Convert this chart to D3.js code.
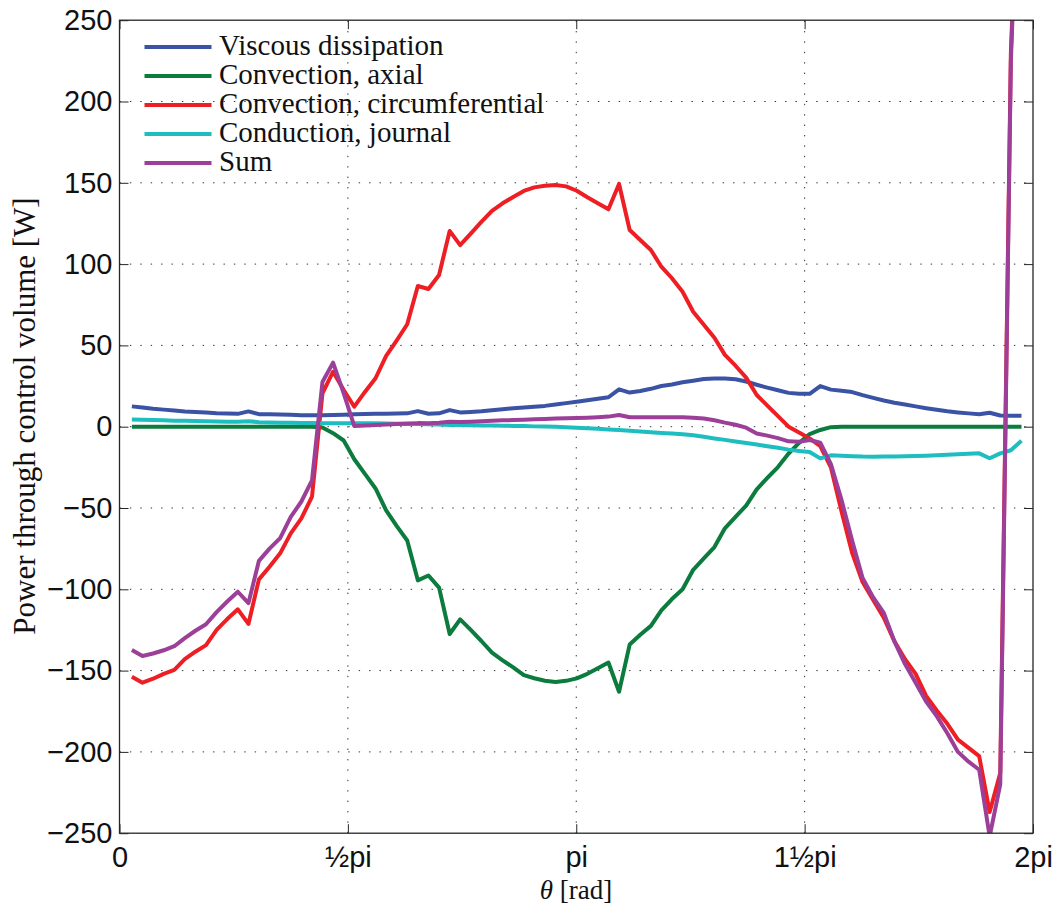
<!DOCTYPE html>
<html><head><meta charset="utf-8">
<script src="https://cdn.jsdelivr.net/npm/d3@7"></script>
<style>body{margin:0;background:#fff}svg{display:block}</style>
</head><body><svg id="chart" width="1059" height="908"></svg>
<script>
// theta [rad]
const theta = [0.085,0.158,0.231,0.304,0.377,0.449,0.522,0.595,0.668,0.741,0.814,0.887,0.959,1.032,1.105,1.178,1.251,1.324,1.396,1.469,1.542,1.615,1.688,1.761,1.834,1.906,1.979,2.052,2.125,2.198,2.271,2.343,2.416,2.489,2.562,2.635,2.708,2.781,2.853,2.926,2.999,3.072,3.145,3.218,3.290,3.363,3.436,3.509,3.582,3.655,3.727,3.800,3.873,3.946,4.019,4.092,4.164,4.237,4.310,4.383,4.456,4.529,4.602,4.674,4.747,4.820,4.893,4.966,5.039,5.111,5.184,5.257,5.330,5.403,5.476,5.548,5.621,5.694,5.767,5.840,5.913,5.985,6.058,6.131,6.204];

const viscous = [12.5,11.8,11.0,10.5,10.0,9.3,9.0,8.7,8.3,8.1,7.9,9.4,7.7,7.6,7.5,7.3,7.1,7.0,7.0,7.2,7.4,7.7,7.8,7.9,8.0,8.1,8.2,9.6,8.0,8.2,10.2,8.8,9.1,9.5,10.1,10.8,11.4,11.8,12.3,12.8,13.6,14.5,15.4,16.3,17.2,18.1,23.0,21.0,22.0,23.3,25.0,26.0,27.3,28.3,29.3,29.7,29.6,29.2,27.8,25.8,24.0,22.4,20.8,20.3,20.2,25.0,22.8,22.1,21.3,19.4,17.7,16.1,14.7,13.6,12.5,11.4,10.4,9.5,8.8,8.2,7.6,8.6,6.9,6.8,6.8];

const axial = [0,0,0,0,0,0,0,0,0,0,0,0,0,0,0,0,0,0,-0.5,-4,-8.5,-20,-29,-38,-51.5,-61,-70,-94.5,-91.5,-99,-127.5,-118.5,-125,-131.8,-139,-143.7,-148,-152.8,-154.7,-156.2,-157,-156.3,-154.8,-152,-148.5,-145,-163,-134,-128,-122.5,-113,-106,-100,-88,-81,-74,-62.5,-55.5,-48.5,-38.5,-31.5,-24.8,-16.5,-10,-4.5,-2,-0.3,0,0,0,0,0,0,0,0,0,0,0,0,0,0,0,0,0,0];

const circumferential = [-153.8,-157.4,-155,-152,-149.6,-143,-138.4,-134.3,-125,-118.3,-112.3,-121.3,-93.9,-86.1,-77.9,-65.6,-56.4,-43,20.5,33.8,22.6,12.3,21.4,29.8,43.5,53,63,86.5,84.7,93.3,120.4,111.7,118.7,126,132.8,137.4,141.3,145,147.2,148.2,148.6,147.8,145.1,141.1,137.4,133.7,149.3,121,114.8,108.7,98.4,91.3,83,70.7,62.7,54.7,44.2,37.5,30.2,19.5,13,6.5,0,-3.5,-7.2,-12,-25,-52,-77.5,-95.5,-106.5,-117.5,-132,-143,-152,-165.5,-174.5,-182.7,-192.5,-197.5,-202.6,-237,-213,230,400];

const conduction = [4.5,4.3,4.1,3.9,3.7,3.6,3.5,3.3,3.2,3.1,3.1,3.4,2.8,2.6,2.5,2.4,2.3,2.2,2.1,2.1,2.1,2.1,2.1,2.1,2.0,1.8,1.7,1.6,1.5,1.3,1.1,1.0,0.9,0.8,0.7,0.6,0.5,0.4,0.2,0.1,0,-0.3,-0.6,-0.9,-1.3,-1.7,-2.1,-2.5,-3.0,-3.4,-3.8,-4.2,-4.6,-5.3,-6.2,-7.2,-8.1,-9.1,-10,-11,-12,-13,-14.1,-14.9,-15.6,-19.5,-17.6,-17.8,-18.1,-18.4,-18.5,-18.4,-18.3,-18.1,-18.0,-17.8,-17.6,-17.3,-17,-16.7,-16.4,-19.4,-16.4,-14.5,-8.6];

const total = [-137.3,-141,-139.5,-137.5,-135,-130,-125.5,-121.5,-114,-107.5,-101.5,-108.5,-82.5,-75,-68.5,-55.5,-46,-33,27.5,39.4,20.5,0.4,0.8,1.1,1.3,1.6,1.9,2.2,2.1,2.5,3.1,2.9,3.1,3.4,3.7,3.9,4.1,4.3,4.6,4.8,5.0,5.2,5.3,5.5,5.8,6.2,7.2,5.8,5.8,5.8,5.8,5.8,5.8,5.5,5.0,4.0,2.5,1.2,-0.6,-4.2,-5.5,-7,-9,-9.3,-8.2,-9.8,-23,-45,-70,-93,-105,-114.5,-132,-146,-157.5,-169,-178,-188.5,-200,-206,-211,-252,-220,225,400];

const seriesNames = ["Viscous dissipation","Convection, axial","Convection, circumferential","Conduction, journal","Sum"];
const seriesColors = ["#3a53a4","#0b7b3e","#ed1f24","#1ebdbf","#9c3f98"];
const seriesValues = [viscous, axial, circumferential, conduction, total];

const xTickValues = [0, Math.PI/2, Math.PI, 3*Math.PI/2, 2*Math.PI];
const xTickLabels = ["0","\u00bdpi","pi","1\u00bdpi","2pi"];
const yTickValues = [-250,-200,-150,-100,-50,0,50,100,150,200,250];

const W = 1059, H = 908;
const m = {l:119.5, r:26, t:20.2, b:74.8};
const x = d3.scaleLinear().domain([0, 2*Math.PI]).range([m.l, W - m.r]);
const y = d3.scaleLinear().domain([-250, 250]).range([H - m.b, m.t]);
const svg = d3.select("#chart");

svg.append("defs").append("clipPath").attr("id","plotclip")
  .append("rect").attr("x", m.l).attr("y", m.t).attr("width", W - m.l - m.r).attr("height", H - m.t - m.b);

// grid
const grid = svg.append("g").attr("stroke","#333").attr("stroke-width",1).attr("stroke-dasharray","1.4,9");
grid.selectAll("line.gx").data(xTickValues.slice(1,-1)).join("line").attr("class","gx")
  .attr("x1", d => x(d)).attr("x2", d => x(d)).attr("y1", y(-250)).attr("y2", y(250));
grid.selectAll("line.gy").data(yTickValues.slice(1,-1)).join("line").attr("class","gy")
  .attr("x1", x(0)).attr("x2", x(2*Math.PI)).attr("y1", d => y(d)).attr("y2", d => y(d));

// series
const lines = svg.append("g").attr("clip-path","url(#plotclip)");
const lineGen = d3.line().x((d,i) => x(theta[i])).y(d => y(d));
seriesValues.forEach((vals, k) => {
  lines.append("path").datum(vals).attr("d", lineGen)
    .attr("fill","none").attr("stroke", seriesColors[k]).attr("stroke-width",4)
    .attr("stroke-linejoin","round").attr("stroke-linecap","butt");
});

// axes
const fmtY = d => d < 0 ? "\u2212" + Math.abs(d) : String(d);
function styleAxis(g){
  g.select(".domain").remove();
  g.selectAll(".tick line").attr("stroke","#262626").attr("stroke-width",1);
  g.selectAll(".tick text").attr("fill","#111");
  g.attr("font-family","'Liberation Sans', Arial, sans-serif").attr("font-size",29);
}
svg.append("g").attr("transform",`translate(0,${y(-250)})`)
  .call(d3.axisBottom(x).tickValues(xTickValues).tickFormat((d,i) => xTickLabels[i]).tickSizeInner(-9).tickSizeOuter(0).tickPadding(13.5))
  .call(styleAxis);
svg.append("g").attr("transform",`translate(0,${y(250)})`)
  .call(d3.axisTop(x).tickValues(xTickValues).tickFormat(() => "").tickSizeInner(-9).tickSizeOuter(0))
  .call(styleAxis);
svg.append("g").attr("transform",`translate(${x(0)},0)`)
  .call(d3.axisLeft(y).tickValues(yTickValues).tickFormat(fmtY).tickSizeInner(-9).tickSizeOuter(0).tickPadding(7))
  .call(styleAxis);
svg.append("g").attr("transform",`translate(${x(2*Math.PI)},0)`)
  .call(d3.axisRight(y).tickValues(yTickValues).tickFormat(() => "").tickSizeInner(-9).tickSizeOuter(0))
  .call(styleAxis);

// frame
svg.append("rect").attr("x", x(0)).attr("y", y(250)).attr("width", x(2*Math.PI) - x(0)).attr("height", y(-250) - y(250))
  .attr("fill","none").attr("stroke","#262626").attr("stroke-width",1.3);

// legend
const leg = svg.append("g").attr("font-family","'Liberation Serif', 'Times New Roman', serif").attr("font-size",29).attr("fill","#111");
seriesNames.forEach((name, k) => {
  const base = 55 + k * 29;
  leg.append("line").attr("x1",144.5).attr("x2",211.5).attr("y1",base - 8).attr("y2",base - 8)
    .attr("stroke", seriesColors[k]).attr("stroke-width",4);
  leg.append("text").attr("x",219).attr("y",base).text(name);
});

// axis titles
svg.append("text").attr("transform","translate(35,416) rotate(-90)").attr("text-anchor","middle")
  .attr("font-family","'Liberation Serif', 'Times New Roman', serif").attr("font-size",31).attr("fill","#111")
  .text("Power through control volume [W]");
const xl = svg.append("text").attr("x", 576).attr("y", 899).attr("text-anchor","middle")
  .attr("font-family","'Liberation Serif', 'Times New Roman', serif").attr("font-size",27).attr("fill","#111");
xl.append("tspan").attr("font-style","italic").text("\u03b8");
xl.append("tspan").text(" [rad]");
</script>
</body></html>
